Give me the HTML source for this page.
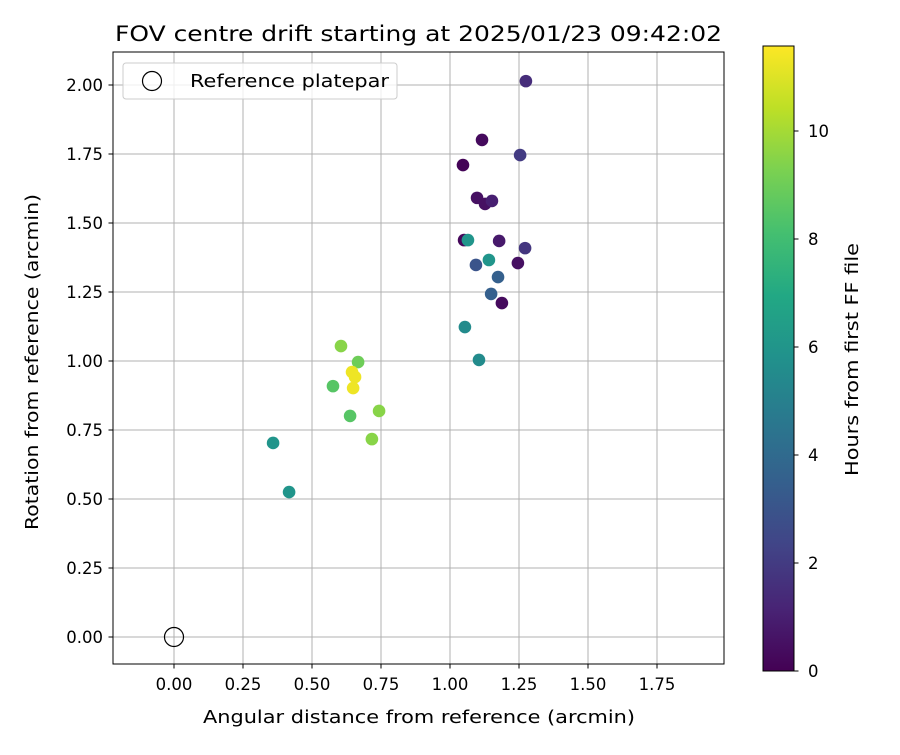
<!DOCTYPE html>
<html><head><meta charset="utf-8">
<style>
html,body{margin:0;padding:0;background:#fff;}
svg text{font-family:"DejaVu Sans","Liberation Sans",sans-serif;fill:#000;}
</style></head>
<body>
<svg id="chart" width="900" height="750" viewBox="0 0 900 750" xmlns="http://www.w3.org/2000/svg">
<defs>
<linearGradient id="vir" x1="0" y1="1" x2="0" y2="0">
<stop offset="0" stop-color="#440154"/><stop offset="0.1" stop-color="#482475"/>
<stop offset="0.2" stop-color="#414487"/><stop offset="0.3" stop-color="#355f8d"/>
<stop offset="0.4" stop-color="#2a788e"/><stop offset="0.5" stop-color="#21918c"/>
<stop offset="0.6" stop-color="#22a884"/><stop offset="0.7" stop-color="#44bf70"/>
<stop offset="0.8" stop-color="#7ad151"/><stop offset="0.9" stop-color="#bddf26"/>
<stop offset="1" stop-color="#fde725"/>
</linearGradient>
</defs>
<text x="115" y="41" font-size="21" textLength="607" lengthAdjust="spacingAndGlyphs">FOV centre drift starting at 2025/01/23 09:42:02</text>
<g id="grid"></g>
<g id="xticks"></g>
<g id="yticks"></g>
<g id="points"></g>
<circle id="refc" r="9.5" fill="none" stroke="#000" stroke-width="1.2"/>
<rect x="113" y="52" width="611" height="612" fill="none" stroke="#000" stroke-width="1"/>
<g>
<rect x="123" y="63" width="274" height="36" rx="3" fill="#fff" fill-opacity="0.8" stroke="#ccc"/>
<circle cx="152" cy="81" r="9.5" fill="none" stroke="#000" stroke-width="1.2"/>
<text x="190" y="87" font-size="17.5" textLength="199" lengthAdjust="spacingAndGlyphs">Reference platepar</text>
</g>
<text x="203" y="723" font-size="17.5" textLength="432" lengthAdjust="spacingAndGlyphs">Angular distance from reference (arcmin)</text>
<text transform="translate(38,530) rotate(-90)" font-size="17.5" textLength="336" lengthAdjust="spacingAndGlyphs">Rotation from reference (arcmin)</text>
<rect x="763" y="46" width="31" height="625" fill="url(#vir)" stroke="#000" stroke-width="1"/>
<g id="cticks"></g>
<text transform="translate(858,476) rotate(-90)" font-size="17.5" textLength="233" lengthAdjust="spacingAndGlyphs">Hours from first FF file</text>
</svg>
<script>
const xVals=[1.275,1.116,1.254,1.047,1.098,1.127,1.152,1.051,1.065,1.178,1.272,1.141,1.094,1.246,1.174,1.149,1.188,1.054,1.105,0.605,0.667,0.645,0.656,0.649,0.576,0.743,0.638,0.717,0.359,0.417];
const yVals=[2.014,1.801,1.746,1.710,1.591,1.569,1.580,1.438,1.438,1.435,1.409,1.366,1.348,1.355,1.304,1.243,1.210,1.123,1.004,1.054,0.996,0.960,0.942,0.902,0.909,0.819,0.801,0.717,0.703,0.525];
const hours=[1.5,0.3,2.0,0.1,0.5,0.5,1.0,0.2,6.0,0.8,1.8,6.0,3.0,0.5,3.5,3.5,0.3,5.5,5.5,9.5,9.0,11.3,11.3,11.3,8.5,9.5,8.5,9.5,6.0,6.0];
const xTicks=["0.00","0.25","0.50","0.75","1.00","1.25","1.50","1.75"];
const yTicks=["0.00","0.25","0.50","0.75","1.00","1.25","1.50","1.75","2.00"];
const cTicks=[0,2,4,6,8,10];
const NS="http://www.w3.org/2000/svg";
const X=v=>174+v*276, Y=v=>637-v*276, C=h=>671-h*54;
const HMAX=11.57;
const vir=[[68,1,84],[72,36,117],[65,68,135],[53,95,141],[42,120,142],[33,145,140],[34,168,132],[68,191,112],[122,209,81],[189,223,38],[253,231,37]];
function cmap(h){let t=Math.max(0,Math.min(1,h/HMAX))*10;let i=Math.min(9,Math.floor(t)),f=t-i;
 const c=vir[i].map((a,k)=>Math.round(a+(vir[i+1][k]-a)*f));return `rgb(${c})`;}
function mk(tag,attrs,parent){const e=document.createElementNS(NS,tag);for(const k in attrs)e.setAttribute(k,attrs[k]);parent.appendChild(e);return e;}
const grid=document.getElementById('grid'),xg=document.getElementById('xticks'),yg=document.getElementById('yticks'),pg=document.getElementById('points'),cg=document.getElementById('cticks');
xTicks.forEach(t=>{const x=X(parseFloat(t));
 const l=mk('line',{x1:x,x2:x,y1:52,y2:664,stroke:'#b0b0b0','stroke-width':1},grid);
 
 
 mk('line',{x1:x,x2:x,y1:664,y2:668.5,stroke:'#000'},xg);
 const tx=mk('text',{x:x,y:690,'font-size':16.5,'text-anchor':'middle'},xg);tx.textContent=t;
 
 });
yTicks.forEach(t=>{const y=Y(parseFloat(t));
 const l=mk('line',{x1:113,x2:724,y1:y,y2:y,stroke:'#b0b0b0','stroke-width':1},grid);
 
 
 mk('line',{x1:108.5,x2:113,y1:y,y2:y,stroke:'#000'},yg);
 const tx=mk('text',{x:103,y:y+6,'font-size':16.5,'text-anchor':'end'},yg);tx.textContent=t;
 
 });
xVals.forEach((v,i)=>{const c=mk('circle',{cx:X(v),cy:Y(yVals[i]),r:6.3,fill:cmap(hours[i])},pg);
 
 });
const rc=document.getElementById('refc');rc.setAttribute('cx',X(0));rc.setAttribute('cy',Y(0));
cTicks.forEach(h=>{const y=C(h);
 mk('line',{x1:794,x2:798.5,y1:y,y2:y,stroke:'#000'},cg);
 const tx=mk('text',{x:808,y:y+6,'font-size':16.5},cg);tx.textContent=h;
 
 });
</script>
</body></html>
